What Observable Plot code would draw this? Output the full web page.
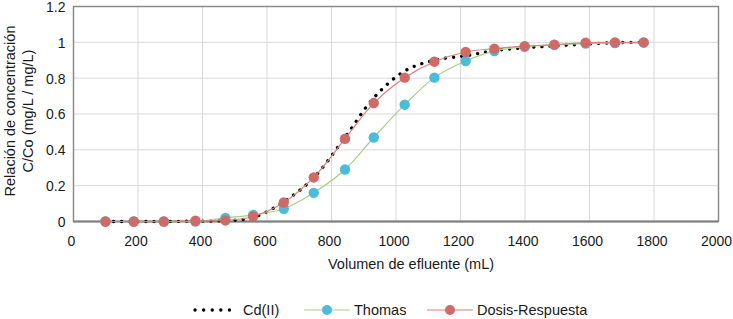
<!DOCTYPE html>
<html><head><meta charset="utf-8">
<script src="https://cdn.jsdelivr.net/npm/d3@7"></script>
<script src="https://cdn.jsdelivr.net/npm/@observablehq/plot@0.6"></script>
<style>
body{margin:0;background:#fff;font-family:"Liberation Sans",Arial,sans-serif;}
#wrap{position:relative;width:733px;height:319px;}
#legend{position:absolute;left:0;top:290px;width:733px;height:29px;font-size:14.5px;color:#1a1a1a;}
.item{position:absolute;height:29px;display:flex;align-items:center;top:5px;}
.item svg{margin-right:4px}
</style></head>
<body><div id="wrap"><div id="chart"></div><div id="legend"></div></div>
<script>
const volumen = [99, 187, 280, 378, 471, 557, 652, 745, 842, 931, 1027, 1119, 1216, 1305, 1399, 1491, 1588, 1679, 1768];
const cdII    = [0, 0, 0, 0.002, 0.005, 0.022, 0.11, 0.245, 0.47, 0.69, 0.84, 0.9, 0.925, 0.953, 0.97, 0.98, 0.99, 0.998, 1.0];
const thomas  = [0, 0, 0, 0, 0.02, 0.037, 0.071, 0.16, 0.29, 0.469, 0.652, 0.803, 0.896, 0.951, 0.975, 0.986, 0.993, 0.996, 0.998];
const dosis   = [0, 0, 0, 0.004, 0.006, 0.028, 0.106, 0.246, 0.462, 0.661, 0.803, 0.892, 0.946, 0.965, 0.979, 0.987, 0.998, 1.0, 1.0];
const xTicks = [0, 200, 400, 600, 800, 1000, 1200, 1400, 1600, 1800, 2000];
const yTicks = [0, 0.2, 0.4, 0.6, 0.8, 1, 1.2];
const series = ["Cd(II)", "Thomas", "Dosis-Respuesta"];
const xLabel = "Volumen de efluente (mL)";
const yLabel = "Relación de concentración\nC/Co (mg/L / mg/L)";

const rows = volumen.map((v, i) => ({v, cd: cdII[i], th: thomas[i], dr: dosis[i]}));
const blue = "#4dbcd8", green = "#a6d08a", red = "#cf6b67", redLine = "#d9807c";

const chart = Plot.plot({
  width: 733, height: 290,
  marginLeft: 73, marginRight: 15, marginTop: 6, marginBottom: 69,
  style: {fontFamily: '"Liberation Sans", Arial, sans-serif', fontSize: "14px", color: "#1a1a1a", background: "#fff", overflow: "visible"},
  x: {domain: [0, 2000]},
  y: {domain: [0, 1.2]},
  marks: [
    Plot.gridX(xTicks, {stroke: "#d9d9d9", strokeOpacity: 1}),
    Plot.gridY(yTicks, {stroke: "#d9d9d9", strokeOpacity: 1}),
    Plot.frame({stroke: "#8a8a8a", strokeWidth: 1.5}),
    Plot.ruleY([0], {stroke: "#7f7f7f", strokeWidth: 2}),
    Plot.axisX(xTicks, {tickSize: 0, tickPadding: 15, tickFormat: d => String(d), label: null, dx: -2}),
    Plot.axisY(yTicks, {tickSize: 0, tickPadding: 8, tickFormat: d => String(d), label: null, dy: 1}),
    Plot.line(rows, {x: "v", y: "cd", curve: "catmull-rom", stroke: "#000", strokeWidth: 3.3, strokeDasharray: "0.1,8", strokeLinecap: "round"}),
    Plot.line(rows, {x: "v", y: "th", curve: "catmull-rom", stroke: green, strokeWidth: 1.2}),
    Plot.dot(rows, {x: "v", y: "th", r: 5.2, fill: blue, stroke: "none"}),
    Plot.line(rows, {x: "v", y: "dr", curve: "catmull-rom", stroke: redLine, strokeWidth: 1.2}),
    Plot.dot(rows, {x: "v", y: "dr", r: 5.2, fill: red, stroke: "none"}),
    Plot.text([xLabel], {frameAnchor: "bottom", textAnchor: "middle", dy: 47, dx: 15, fontSize: 14.5, fill: "#1a1a1a"}),
    Plot.text([yLabel], {frameAnchor: "left", textAnchor: "middle", lineAnchor: "middle", rotate: -90, dx: -55, dy: -3, lineHeight: 1.2, fontSize: 14.5, fill: "#1a1a1a"})
  ]
});
document.getElementById("chart").appendChild(chart);

// legend
const legend = document.getElementById("legend");
const lefts = [193, 304, 427];
const ns = "http://www.w3.org/2000/svg";
series.forEach((name, i) => {
  const item = document.createElement("div");
  item.className = "item";
  item.style.left = lefts[i] + "px";
  const s = document.createElementNS(ns, "svg");
  s.setAttribute("width", 46); s.setAttribute("height", 12);
  const ln = document.createElementNS(ns, "line");
  ln.setAttribute("x1", i === 0 ? 2 : 0); ln.setAttribute("x2", i === 0 ? 45 : 46);
  ln.setAttribute("y1", 6); ln.setAttribute("y2", 6);
  if (i === 0) {
    ln.setAttribute("stroke", "#000"); ln.setAttribute("stroke-width", 3.3);
    ln.setAttribute("stroke-dasharray", "0.1,8.5"); ln.setAttribute("stroke-linecap", "round");
  } else {
    ln.setAttribute("stroke", i === 1 ? green : redLine); ln.setAttribute("stroke-width", 1.2);
  }
  s.appendChild(ln);
  if (i > 0) {
    const c = document.createElementNS(ns, "circle");
    c.setAttribute("cx", 23); c.setAttribute("cy", 6); c.setAttribute("r", 5);
    c.setAttribute("fill", i === 1 ? blue : red);
    s.appendChild(c);
  }
  item.appendChild(s);
  const t = document.createElement("span");
  t.textContent = name;
  item.appendChild(t);
  legend.appendChild(item);
});
</script></body></html>
